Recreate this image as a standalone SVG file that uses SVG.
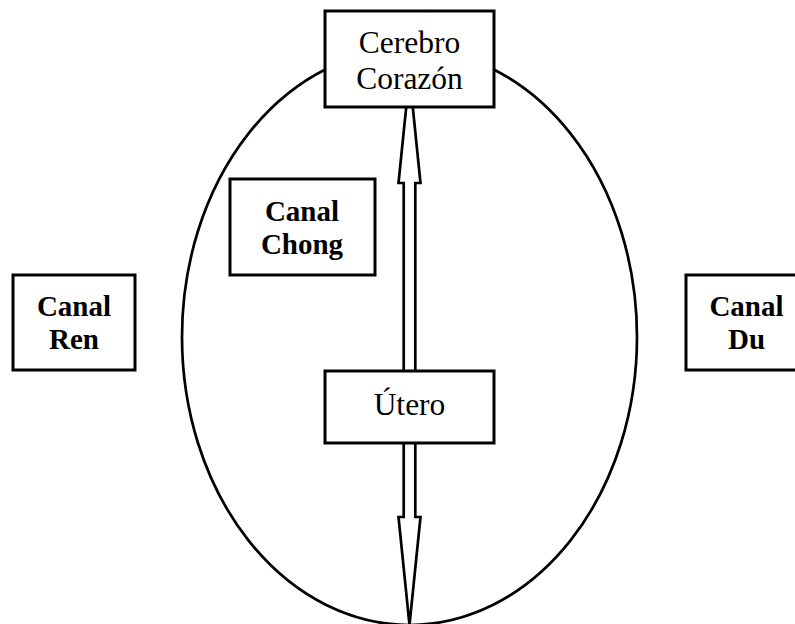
<svg xmlns="http://www.w3.org/2000/svg" width="795" height="624" viewBox="0 0 795 624">
  <style>
    .box { fill: #ffffff; stroke: #000000; stroke-width: 3; }
    .outline { fill: none; stroke: #000000; stroke-width: 2.7; }
    .arrow { fill: #ffffff; stroke: #000000; stroke-width: 2.7; stroke-linejoin: miter; }
    .lbl { font-family: "Liberation Serif", "Times New Roman", serif; font-size: 31.5px; fill: #000000; text-anchor: middle; }
    .bold { font-family: "Liberation Serif", "Times New Roman", serif; font-size: 29px; font-weight: bold; fill: #000000; text-anchor: middle; }
  </style>
  <rect width="795" height="624" fill="#ffffff"/>

  <!-- enclosing oval -->
  <ellipse class="outline" cx="409.5" cy="337" rx="227.5" ry="288"/>

  <g id="connectors">
    <!-- hollow double-headed arrow running through the centre -->
    <polygon class="arrow" points="409.5,75 420.5,183 415.3,183 415.3,517 420.5,517 409.5,625 398.5,517 403.7,517 403.7,183 398.5,183"/>
  </g>

  <g id="node-cerebro">
    <rect class="box" x="325" y="11" width="169" height="96"/>
    <text class="lbl" x="409.5" y="53">Cerebro</text>
    <text class="lbl" x="409.5" y="89">Corazón</text>
  </g>

  <g id="node-utero">
    <rect class="box" x="325" y="371" width="169" height="72"/>
    <text class="lbl" x="409.5" y="415">Útero</text>
  </g>

  <g id="node-chong">
    <rect class="box" x="230" y="179" width="145" height="96"/>
    <text class="bold" x="302" y="221">Canal</text>
    <text class="bold" x="302" y="254">Chong</text>
  </g>

  <g id="node-ren">
    <rect class="box" x="13" y="275" width="122" height="95"/>
    <text class="bold" x="74" y="316">Canal</text>
    <text class="bold" x="74" y="349">Ren</text>
  </g>

  <g id="node-du">
    <rect class="box" x="686" y="275" width="122" height="95"/>
    <text class="bold" x="746.5" y="316">Canal</text>
    <text class="bold" x="746.5" y="349">Du</text>
  </g>
</svg>
